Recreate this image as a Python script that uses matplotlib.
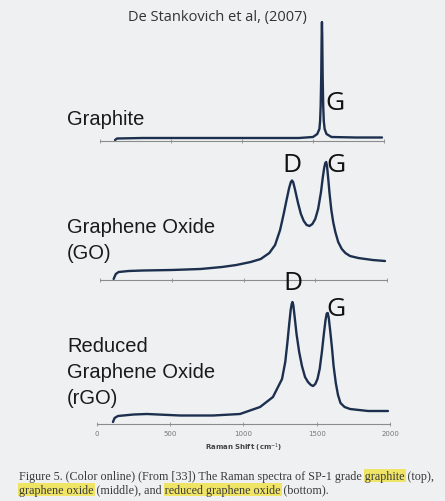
import numpy as np
import matplotlib
matplotlib.use("Agg")
import matplotlib.pyplot as plt
from matplotlib.patches import Rectangle

# Raman spectra (shift in cm^-1, intensity in a.u.)
graphite_shift = [106, 120, 300, 700, 1100, 1400, 1500, 1530, 1545, 1550, 1554, 1558, 1561,
                  1563, 1565, 1568, 1572, 1576, 1582, 1595, 1630, 1800, 1986]
graphite_int = [1, 2.5, 3, 3, 3, 3, 4, 7, 12, 20, 35, 65, 105, 119, 105, 65, 35, 20, 12, 7,
                4, 3.5, 3.5]

go_shift = [95, 110, 130, 200, 300, 500, 700, 850, 950, 1050, 1120, 1180, 1220, 1255,
            1280, 1300, 1318, 1330, 1338, 1346, 1358, 1380, 1400, 1420, 1440, 1460, 1480,
            1500, 1520, 1540, 1552, 1562, 1570, 1576, 1582, 1590, 1600, 1612, 1625, 1640,
            1660, 1685, 1710, 1742, 1800, 1900, 1986]
go_int = [1, 6, 8, 9, 9.5, 10, 11, 13, 15, 18, 21, 27, 35, 50, 66, 80, 92, 98, 99.5, 98,
          91, 77, 66, 59, 55, 54, 56, 61, 71, 88, 102, 112, 117, 118, 114, 102, 86, 70, 58,
          48, 38, 31, 27, 24, 22, 20, 19]

rgo_shift = [109, 120, 143, 250, 341, 567, 792, 976, 1113, 1201, 1263, 1285, 1300, 1312,
             1322, 1329, 1334, 1340, 1350, 1362, 1380, 1399, 1420, 1440, 1460, 1475, 1490,
             1505, 1520, 1535, 1550, 1560, 1568, 1575, 1582, 1592, 1604, 1615, 1630, 1645,
             1662, 1690, 1727, 1850, 1986]
rgo_int = [2, 6, 8, 9.5, 10, 8.5, 8.5, 10, 17, 27, 45, 62, 82, 100, 114, 120, 122, 119, 106,
           90, 72, 58, 47, 42, 39, 38, 40, 45, 55, 72, 92, 104, 110.5, 111, 106, 93, 76, 58,
           41, 29, 21, 17, 15, 13, 13]

xticks = [0, 500, 1000, 1500, 2000]
sample_lines = [["Graphite"], ["Graphene Oxide", "(GO)"], ["Reduced", "Graphene Oxide", "(rGO)"]]

W, H = 445, 502
BG = "#eef0f1"
LINE = "#1d2f4e"

fig = plt.figure(figsize=(W / 100, H / 100), dpi=100, facecolor=BG)


def px(x, y):
    return x / W, 1 - y / H


def panel(left, right, axis_y, shift, inten, labels):
    ax = fig.add_axes([left / W, (H - axis_y) / H, (right - left) / W, 130 / H])
    ax.patch.set_alpha(0)
    ax.plot(shift, inten, color=LINE, lw=1.7, clip_on=False, solid_capstyle="round",
            solid_joinstyle="round")
    ax.set_xlim(0, 2000)
    ax.set_ylim(0, 130)
    for s in ["top", "right", "left"]:
        ax.spines[s].set_visible(False)
    ax.spines["bottom"].set_color("#8a8c8e")
    ax.spines["bottom"].set_linewidth(0.8)
    ax.set_yticks([])
    ax.set_xticks(xticks)
    ax.tick_params(axis="x", direction="inout", length=3, width=0.6, color="#8a8c8e",
                   labelbottom=labels, labelsize=5, labelcolor="#777777", pad=3)
    return ax


panel(100, 384, 142, graphite_shift, graphite_int, False)
panel(100, 387, 281, go_shift, go_int, False)
ax3 = panel(97, 390, 425, rgo_shift, rgo_int, True)
ax3.set_xlabel("Raman Shift (cm$^{-1}$)", fontsize=5, fontweight="bold",
               color="#444444", labelpad=3)

# title and sample names
fig.text(*px(217, 18), "De Stankovich et al, (2007)", family="Open Sans", fontsize=10.5,
         color="#333333", ha="center", va="center")
for lines, y0 in zip(sample_lines, [125, 233, 352]):
    for i, s in enumerate(lines):
        fig.text(*px(67, y0 + i * 26), s, family="Liberation Sans", fontsize=14.5,
                 color="#1a1a1a", ha="left", va="baseline")

# peak letters
for letter, x, y in [("G", 335, 103), ("D", 292, 166), ("G", 336, 166),
                     ("D", 293, 284), ("G", 336, 310)]:
    fig.text(*px(x, y), letter, family="Open Sans", fontsize=19, color="#111111",
             ha="center", va="center")

# caption with highlighted words
renderer = fig.canvas.get_renderer()
cap_kw = dict(family="Liberation Serif", fontsize=8.7, color="#3a3a3a")


def width(s):
    t = fig.text(0, 0, s + "|", **cap_kw)
    w1 = t.get_window_extent(renderer).width
    t.remove()
    t = fig.text(0, 0, "|", **cap_kw)
    w2 = t.get_window_extent(renderer).width
    t.remove()
    return w1 - w2


caption = [
    ("Figure 5. (Color online) (From [33]) The Raman spectra of SP-1 grade graphite (top),",
     ["graphite"], 480),
    ("graphene oxide (middle), and reduced graphene oxide (bottom).",
     ["graphene oxide", "reduced graphene oxide"], 494),
]
for line, marks, base in caption:
    x0 = 19
    start = 0
    for m in marks:
        i = line.index(m, start)
        a = x0 + width(line[:i])
        b = x0 + width(line[:i + len(m)])
        fig.patches.append(Rectangle(((a - 1) / W, 1 - (base + 3) / H), (b - a + 2) / W,
                                     13 / H, transform=fig.transFigure, fc="#f0e24e",
                                     ec="none", alpha=0.85, zorder=0))
        start = i + len(m)
    fig.text(*px(x0, base), line, va="baseline", ha="left", **cap_kw)

fig.savefig("out.png", dpi=100, facecolor=BG)
